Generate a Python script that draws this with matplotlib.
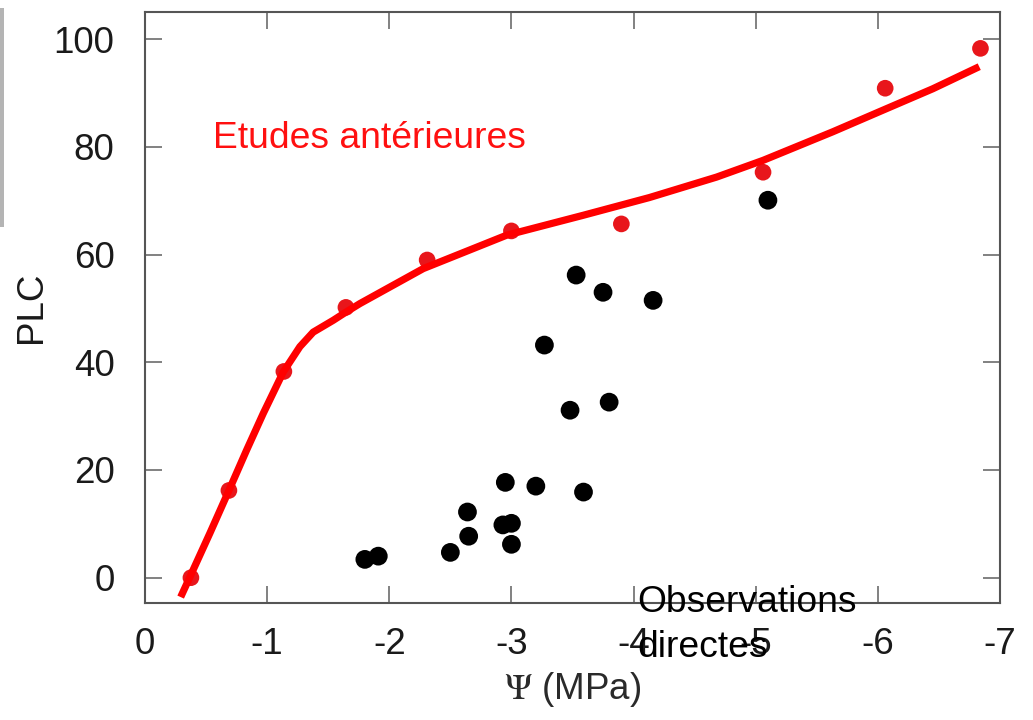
import matplotlib
matplotlib.use("Agg")
import matplotlib.pyplot as plt
from matplotlib.patches import Rectangle

plt.rcParams['font.family'] = ['Liberation Sans', 'DejaVu Sans']
plt.rcParams['mathtext.fontset'] = 'stix'

# Red points: previous studies
prev_psi = [-0.376, -0.687, -1.137, -1.645, -2.31, -3.00, -3.90, -5.06, -6.06, -6.84]
prev_plc = [0.0, 16.2, 38.3, 50.2, 59.0, 64.4, 65.7, 75.3, 90.9, 98.3]

# Black points: direct observations
obs_psi = [-1.80, -1.91, -2.50, -2.64, -2.65, -2.93, -3.00, -3.00, -2.95, -3.20,
           -3.59, -3.48, -3.80, -3.27, -3.53, -3.75, -4.16, -5.10]
obs_plc = [3.4, 4.0, 4.7, 12.2, 7.7, 9.8, 10.1, 6.2, 17.7, 17.0,
           15.9, 31.1, 32.6, 43.2, 56.2, 53.0, 51.5, 70.1]

# Fitted red curve
curve_psi = [-0.292, -0.368, -0.532, -0.687, -0.832, -0.968, -1.132, -1.268, -1.377,
             -1.541, -1.623, -1.759, -2.278, -2.96, -3.587, -4.13, -4.68, -5.06,
             -5.63, -6.07, -6.45, -6.83]
curve_plc = [-3.6, 0.15, 8.3, 16.2, 23.7, 30.5, 38.2, 42.9, 45.6,
             47.8, 49.0, 50.9, 57.4, 63.6, 67.3, 70.6, 74.4, 77.5,
             82.8, 87.1, 90.8, 94.9]

xticks = [0, -1, -2, -3, -4, -5, -6, -7]
yticks = [0, 20, 40, 60, 80, 100]

W, H = 1033, 720
fig = plt.figure(figsize=(W / 100, H / 100), dpi=100)
ax = fig.add_axes([145 / W, 1 - 603 / H, (1000 - 145) / W, (603 - 12.3) / H])

ax.plot(curve_psi, curve_plc, color='#ff0000', lw=5.2, solid_capstyle='butt',
        solid_joinstyle='round', zorder=3)
ax.scatter(prev_psi, prev_plc, s=12 ** 2, color='#e8161b', edgecolors='none', zorder=2)
ax.scatter(obs_psi, obs_plc, s=13.5 ** 2, color='black', edgecolors='none', zorder=2)

ax.set_xlim(0, -7)
ax.set_ylim(-4.7, 105)
ax.set_xticks(xticks)
ax.set_xticklabels([str(v) for v in xticks])
ax.set_yticks(yticks)
ax.set_yticklabels([str(v) for v in yticks])

for s in ax.spines.values():
    s.set_color('#555555')
    s.set_linewidth(1.5)
ax.tick_params(axis='both', direction='in', length=12, width=1.3, color='#777777',
               top=True, right=True, labelsize=26.5, labelcolor='#1a1a1a')
ax.tick_params(axis='x', pad=17)
ax.tick_params(axis='y', pad=22)

ax.set_xlabel(r'$\Psi$ (MPa)', fontsize=26.5, color='#2a2a2a', labelpad=6)
ax.set_ylabel('PLC', fontsize=26.5, color='#1a1a1a', labelpad=3)

ax.text(-0.556, 81.6, 'Etudes antérieures', color='#ff1010', fontsize=26.8,
        ha='left', va='center')
ax.text(-4.03, -4.7, 'Observations', color='black', fontsize=26.8,
        ha='left', va='center', clip_on=False, zorder=5)
ax.text(-4.03, -13.0, 'directes', color='black', fontsize=26.8,
        ha='left', va='center', clip_on=False, zorder=5)

fig.add_artist(Rectangle((0, 1 - 227 / H), 4 / W, (227 - 8) / H,
                         transform=fig.transFigure, color='#b4b4b4', lw=0))

fig.savefig('out.png', dpi=100)
